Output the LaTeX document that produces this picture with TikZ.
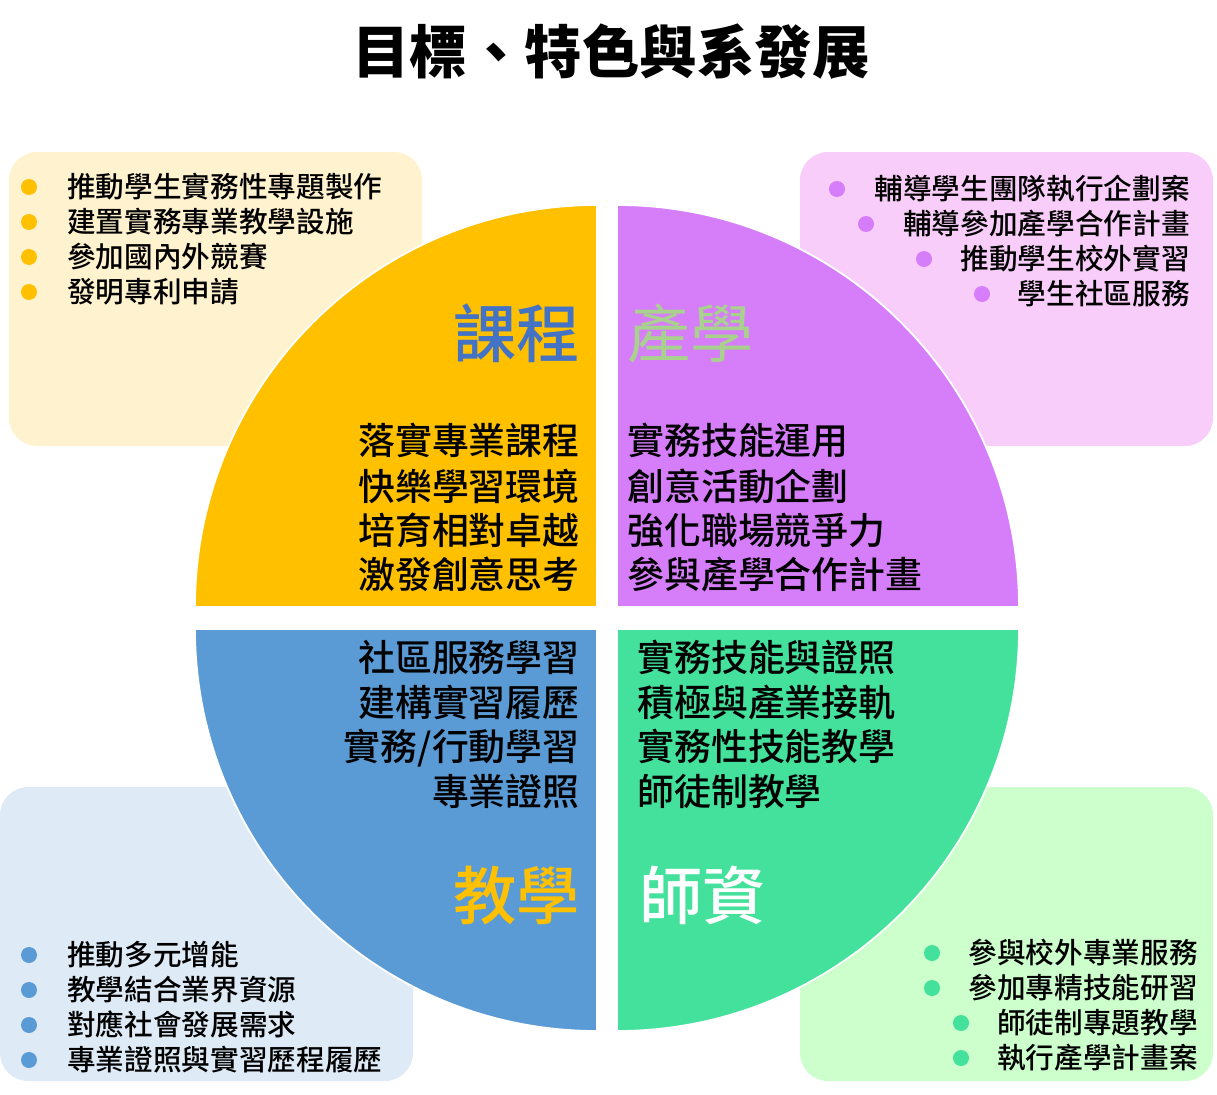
\documentclass[tikz,border=0pt]{standalone}
\usepackage{fontspec}
\setmainfont{Noto Sans CJK TC}
\newfontfamily\cjkmed{Noto Sans CJK TC Medium}
\definecolor{qyellow}{HTML}{FFC000}
\definecolor{qpurple}{HTML}{D67DFA}
\definecolor{qblue}{HTML}{5B9BD5}
\definecolor{qgreen}{HTML}{43E19C}
\definecolor{byellow}{HTML}{FFF2CF}
\definecolor{bpink}{HTML}{F9CDF9}
\definecolor{bblue}{HTML}{DEEBF7}
\definecolor{bgreen}{HTML}{CCFFCC}
\definecolor{tblue}{HTML}{4472C4}
\definecolor{tgreen}{HTML}{A9D18E}

\begin{document}
\begin{tikzpicture}[x=0.02cm,y=-0.02cm,
	item/.style={inner sep=0pt,text height=14.3pt,text depth=2pt,font=\cjkmed\fontsize{16.3pt}{18pt}\selectfont},
	core/.style={inner sep=0pt,text height=18.5pt,text depth=2.5pt,font=\cjkmed\fontsize{21pt}{24pt}\selectfont},
	head/.style={inner sep=0pt,text height=31.7pt,text depth=4.3pt,font=\cjkmed\fontsize{36pt}{40pt}\selectfont},
	dot/.style={circle,inner sep=0pt,minimum size=0.32cm},
	box/.style={rounded corners=16pt},
	quad/.style={draw=white,line width=1pt}]
					\useasboundingbox (0,0) rectangle (1217,1095);
					% rounded boxes
					\fill[box,byellow] (9,152) rectangle (422,446);
					\fill[box,bpink] (800,152) rectangle (1213,446);
					\fill[box,bblue] (0,787) rectangle (413,1081);
					\fill[box,bgreen] (800,787) rectangle (1213,1081);
					% quarter discs
					\filldraw[quad,fill=qyellow] (597,607) -- (195,607) arc[start angle=180,end angle=270,radius=402] -- cycle;
					\filldraw[quad,fill=qpurple] (617,607) -- (617,205) arc[start angle=270,end angle=360,radius=402] -- cycle;
					\filldraw[quad,fill=qblue] (597,629) -- (195,629) arc[start angle=180,end angle=90,radius=402] -- cycle;
					\filldraw[quad,fill=qgreen] (617,629) -- (1019,629) arc[start angle=0,end angle=90,radius=402] -- cycle;
					% title
					\node[inner sep=0pt,text height=28.8pt,text depth=3.9pt,font=\bfseries\fontsize{32.7pt}{36pt}\selectfont] (title) at (611,52) {目標、特色與系發展};
					% headings
					\node[head,anchor=east,text=tblue] (kc) at (580,333) {課程};
					\node[head,anchor=west,text=tgreen,font=\fontsize{36pt}{40pt}\selectfont] (cx) at (627,333) {產學};
					\node[head,anchor=east,text=qyellow] (jx) at (580,895) {教學};
					\node[head,anchor=west,text=white] (sz) at (639,895) {師資};
					% core texts
					\node[core,anchor=east] (kc1) at (580,440) {落實專業課程};
					\node[core,anchor=east] (kc2) at (580,486) {快樂學習環境};
					\node[core,anchor=east] (kc3) at (580,530) {培育相對卓越};
					\node[core,anchor=east] (kc4) at (580,574) {激發創意思考};
					\node[core,anchor=west] (cx1) at (627,440) {實務技能運用};
					\node[core,anchor=west] (cx2) at (627,486) {創意活動企劃};
					\node[core,anchor=west] (cx3) at (627,530) {強化職場競爭力};
					\node[core,anchor=west] (cx4) at (627,574) {參與產學合作計畫};
					\node[core,anchor=east] (jx1) at (580,657) {社區服務學習};
					\node[core,anchor=east] (jx2) at (580,702) {建構實習履歷};
					\node[core,anchor=east] (jx3) at (580,746) {實務/行動學習};
					\node[core,anchor=east] (jx4) at (580,791) {專業證照};
					\node[core,anchor=west] (sz1) at (637,657) {實務技能與證照};
					\node[core,anchor=west] (sz2) at (637,702) {積極與產業接軌};
					\node[core,anchor=west] (sz3) at (637,746) {實務性技能教學};
					\node[core,anchor=west] (sz4) at (637,791) {師徒制教學};
					% top left list
					\node[dot,fill=qyellow] (kd1) at (29,187) {};
					\node[dot,fill=qyellow] (kd2) at (29,222) {};
					\node[dot,fill=qyellow] (kd3) at (29,257) {};
					\node[dot,fill=qyellow] (kd4) at (29,292) {};
					\node[item,anchor=west] (ki1) at (67,187) {推動學生實務性專題製作};
					\node[item,anchor=west] (ki2) at (67,222) {建置實務專業教學設施};
					\node[item,anchor=west] (ki3) at (67,257) {參加國內外競賽};
					\node[item,anchor=west] (ki4) at (67,292) {發明專利申請};
					% top right list
					\node[dot,fill=qpurple] (cd1) at (837,189) {};
					\node[dot,fill=qpurple] (cd2) at (866,224) {};
					\node[dot,fill=qpurple] (cd3) at (924,259) {};
					\node[dot,fill=qpurple] (cd4) at (982,294) {};
					\node[item,anchor=east] (ci1) at (1190,189) {輔導學生團隊執行企劃案};
					\node[item,anchor=east] (ci2) at (1190,224) {輔導參加產學合作計畫};
					\node[item,anchor=east] (ci3) at (1190,259) {推動學生校外實習};
					\node[item,anchor=east] (ci4) at (1190,294) {學生社區服務};
					% bottom left list
					\node[dot,fill=qblue] (jd1) at (29,955) {};
					\node[dot,fill=qblue] (jd2) at (29,990) {};
					\node[dot,fill=qblue] (jd3) at (29,1025) {};
					\node[dot,fill=qblue] (jd4) at (29,1060) {};
					\node[item,anchor=west] (ji1) at (67,955) {推動多元增能};
					\node[item,anchor=west] (ji2) at (67,990) {教學結合業界資源};
					\node[item,anchor=west] (ji3) at (67,1025) {對應社會發展需求};
					\node[item,anchor=west] (ji4) at (67,1060) {專業證照與實習歷程履歷};
					% bottom right list
					\node[dot,fill=qgreen] (sd1) at (932,953) {};
					\node[dot,fill=qgreen] (sd2) at (932,988) {};
					\node[dot,fill=qgreen] (sd3) at (961,1023) {};
					\node[dot,fill=qgreen] (sd4) at (961,1058) {};
					\node[item,anchor=east] (si1) at (1198,953) {參與校外專業服務};
					\node[item,anchor=east] (si2) at (1198,988) {參加專精技能研習};
					\node[item,anchor=east] (si3) at (1198,1023) {師徒制專題教學};
					\node[item,anchor=east] (si4) at (1198,1058) {執行產學計畫案};
				\end{tikzpicture}
\end{document}
